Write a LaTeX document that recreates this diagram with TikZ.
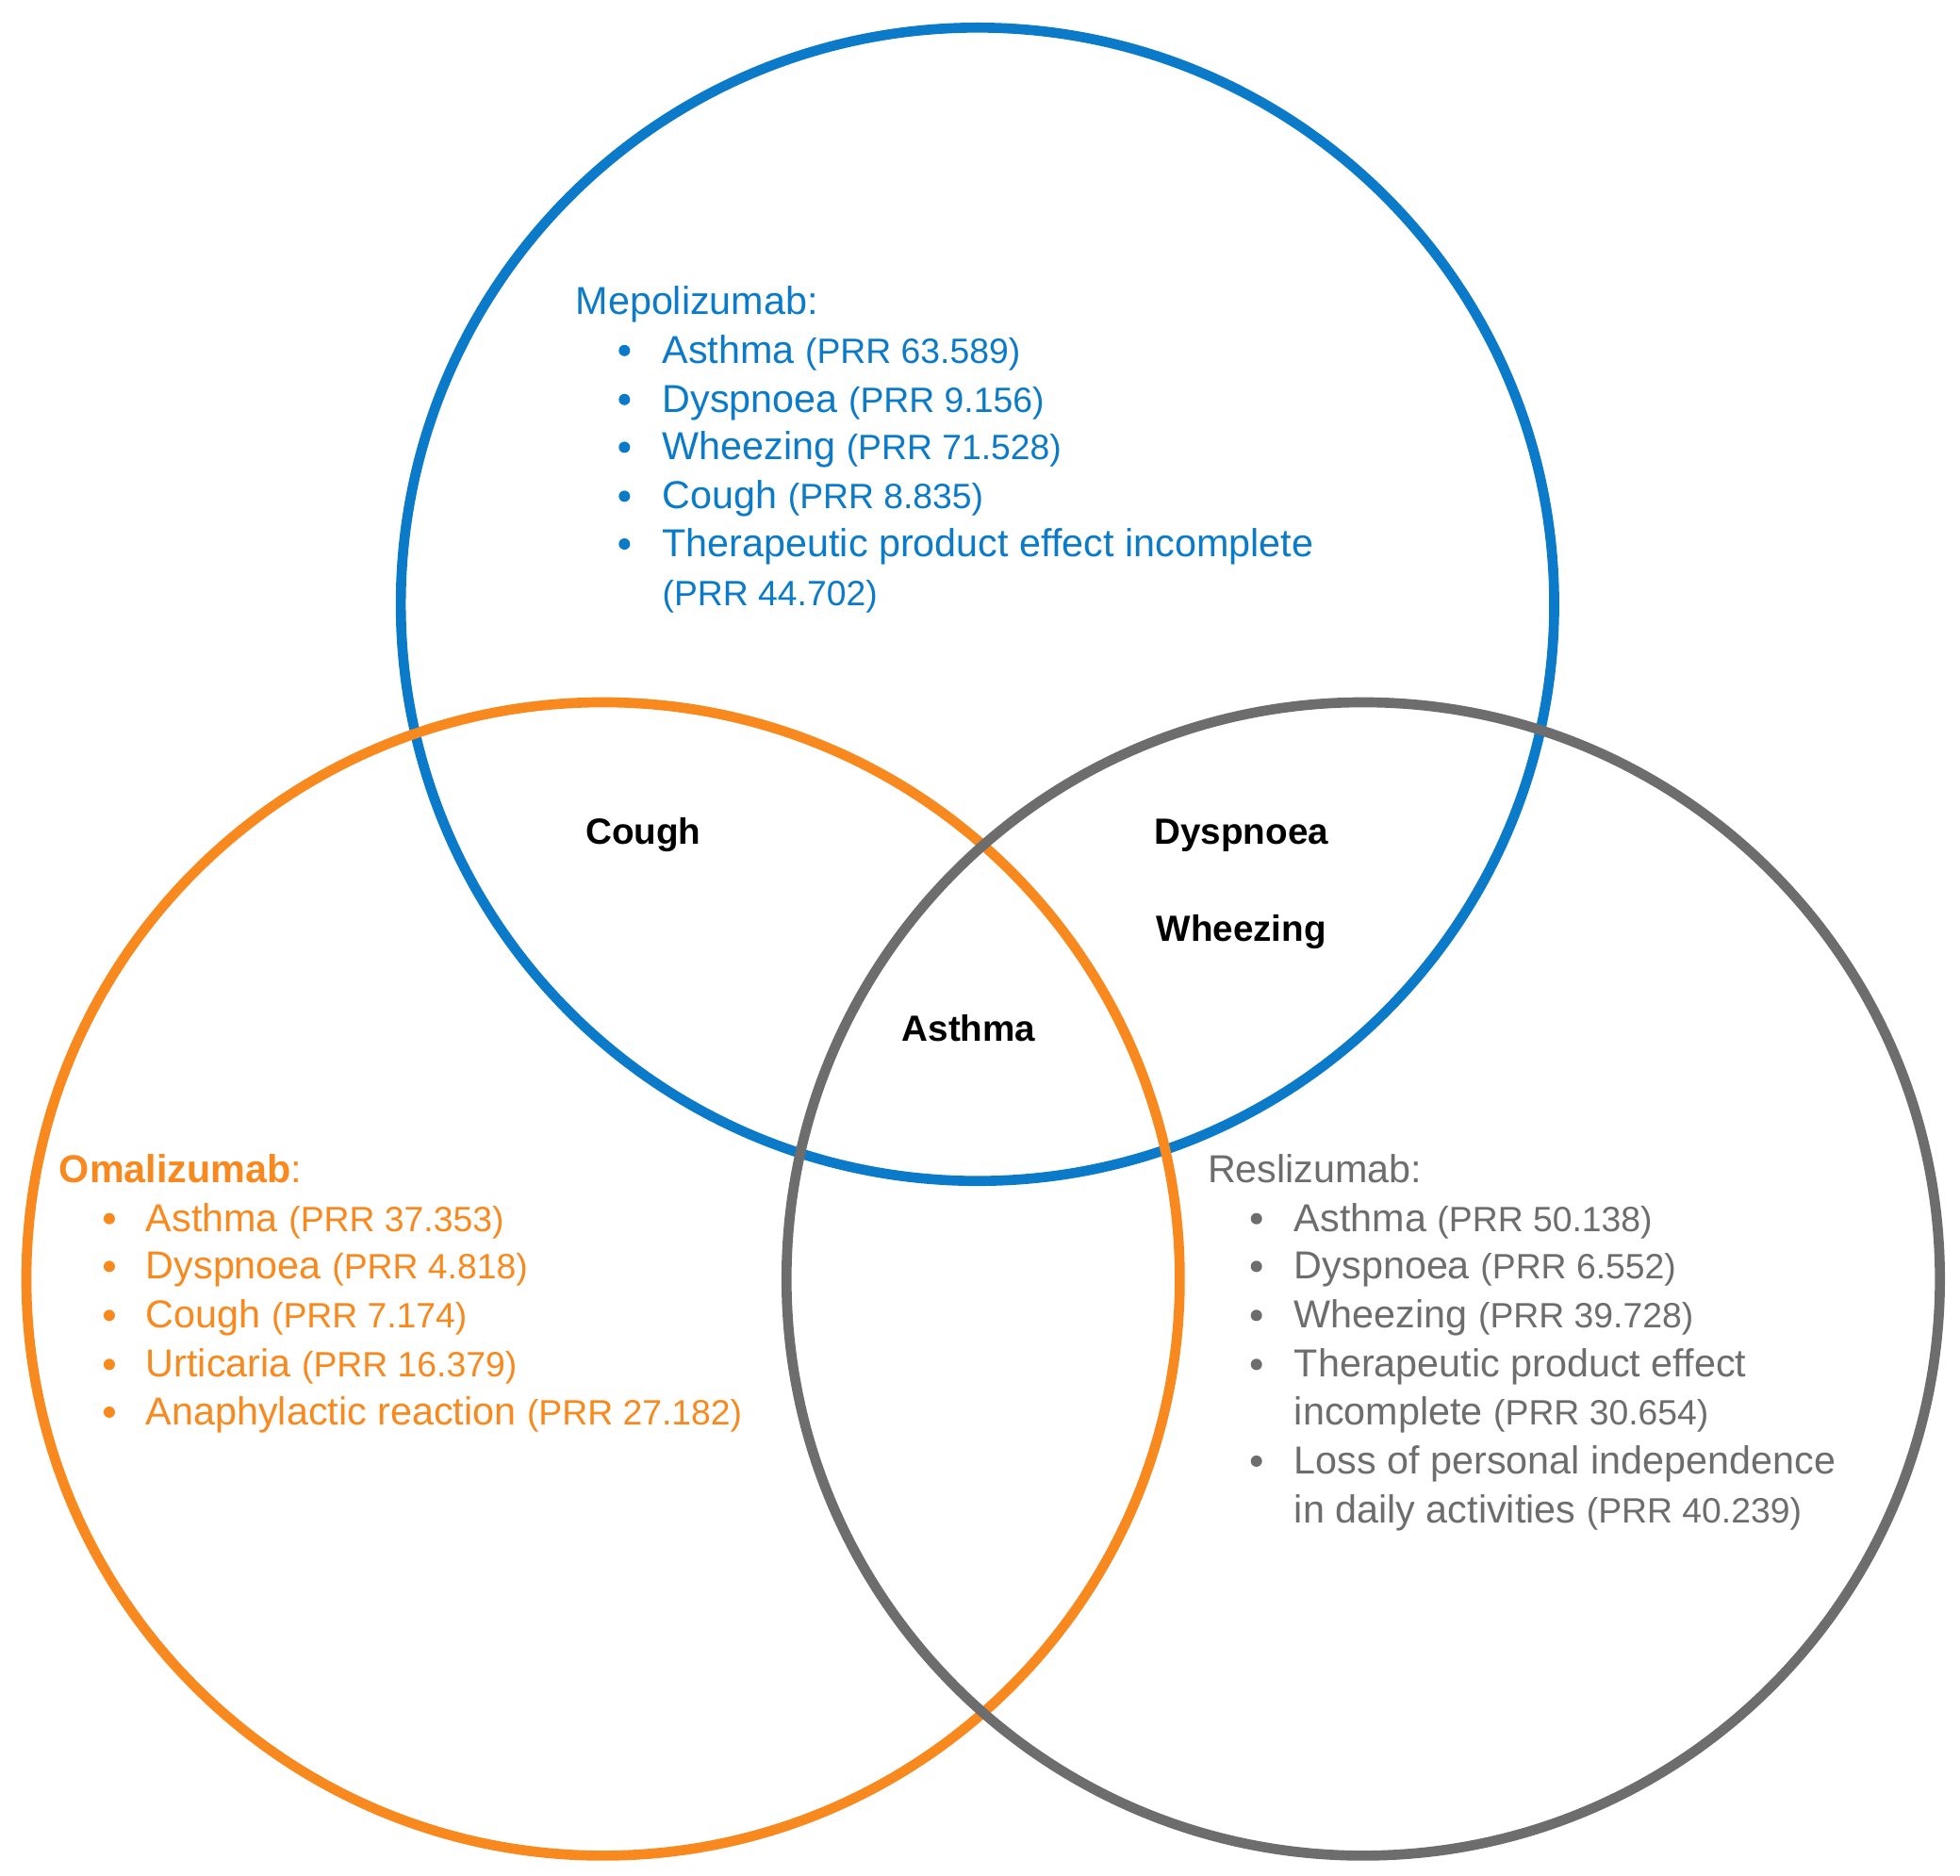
\documentclass[tikz,border=0pt]{standalone}
\usepackage{fontspec}
\setmainfont{Liberation Sans}
\definecolor{cb}{HTML}{0A7AC9}
\definecolor{co}{HTML}{F7891F}
\definecolor{cg}{HTML}{6D6D6D}
\newcommand{\prr}[1]{{\fontsize{28}{34}\selectfont(PRR #1)}}
\begin{document}
\begin{tikzpicture}[x=1pt,y=-1pt,
  ring/.style={line width=8pt},
  t/.style={anchor=base west,inner sep=0,font=\fontsize{31}{38}\selectfont},
  b/.style={anchor=base,inner sep=0,font=\fontsize{29}{34}\selectfont\bfseries},
  dot/.style={circle,fill,inner sep=0,minimum size=9pt}]
\useasboundingbox (0,0) rectangle (1560,1493);
\draw[ring,cb] (778,481) circle[radius=459];
\draw[ring,co] (480,1018) circle[radius=459];
\draw[ring,cg] (1085,1018) circle[radius=459];
% Mepolizumab
\begin{scope}[cb]
\node[t] (m0) at (458,250) {Mepolizumab:};
\foreach \y/\s [count=\i] in {289/{Asthma \prr{63.589}},328/{Dyspnoea \prr{9.156}},366/{Wheezing \prr{71.528}},405/{Cough \prr{8.835}},443/{Therapeutic product effect incomplete}}{
  \node[dot] (mb\i) at (497,\y-10) {};
  \node[t] (m\i) at (527,\y) {\s};}
\node[t] (m6) at (527,482) {\prr{44.702}};
\end{scope}
% Omalizumab
\begin{scope}[co]
\node[t] (o0) at (47,941) {\textbf{Omalizumab}:};
\foreach \y/\s [count=\i] in {980/{Asthma \prr{37.353}},1018/{Dyspnoea \prr{4.818}},1057/{Cough \prr{7.174}},1096/{Urticaria \prr{16.379}},1134/{Anaphylactic reaction \prr{27.182}}}{
  \node[dot] (ob\i) at (87,\y-10) {};
  \node[t] (o\i) at (116,\y) {\s};}
\end{scope}
% Reslizumab
\begin{scope}[cg]
\node[t] (r0) at (961,941) {Reslizumab:};
\foreach \y/\s [count=\i] in {980/{Asthma \prr{50.138}},1018/{Dyspnoea \prr{6.552}},1057/{Wheezing \prr{39.728}},1096/{Therapeutic product effect},1173/{Loss of personal independence}}{
  \node[dot] (rb\i) at (1000,\y-10) {};
  \node[t] (r\i) at (1030,\y) {\s};}
\node[t] (r6) at (1030,1134) {incomplete \prr{30.654}};
\node[t] (r7) at (1030,1212) {in daily activities \prr{40.239}};
\end{scope}
\node[b] (cough) at (512,672) {Cough};
\node[b] (dysp) at (988,672) {Dyspnoea};
\node[b] (whee) at (988,749) {Wheezing};
\node[b] (asth) at (771,829) {Asthma};
\end{tikzpicture}
\end{document}
